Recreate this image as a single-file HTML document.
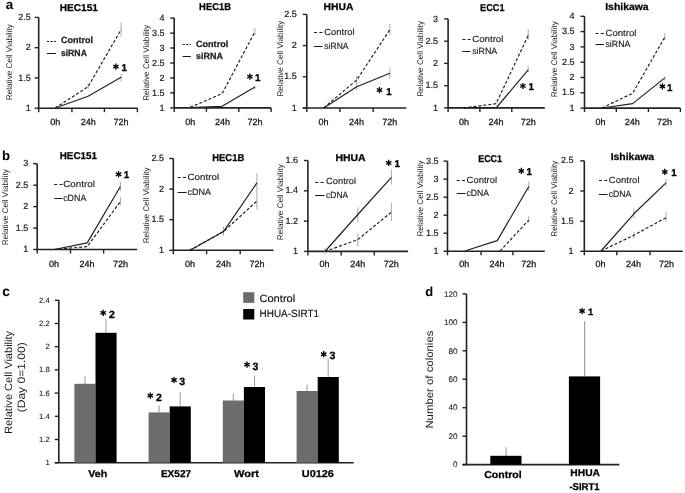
<!DOCTYPE html>
<html><head><meta charset="utf-8"><style>
html,body{margin:0;padding:0;background:#fff;}
body{width:685px;height:493px;overflow:hidden;}
svg{display:block;will-change:transform;filter:blur(0.35px);}
</style></head><body>
<svg width="685" height="493" viewBox="0 0 685 493" font-family='"Liberation Sans", sans-serif' text-rendering="geometricPrecision">
<rect width="685" height="493" fill="#fff"/>
<text x="5.7" y="9.2" font-size="13.5" font-weight="bold">a</text>
<text x="2.0" y="159.6" font-size="13.2" font-weight="bold">b</text>
<text x="2.3" y="296.3" font-size="13.8" font-weight="bold">c</text>
<text x="425.2" y="296.2" font-size="13" font-weight="bold">d</text>
<line x1="38.7" y1="17.4" x2="38.7" y2="108.2" stroke="#222" stroke-width="1.6" stroke-linecap="butt"/>
<line x1="34.7" y1="108.2" x2="38.7" y2="108.2" stroke="#222" stroke-width="1.4" stroke-linecap="butt"/>
<text x="30.7" y="110.8" font-size="9" text-anchor="end" fill="#1a1a1a" stroke="#1a1a1a" stroke-width="0.18">1</text>
<line x1="34.7" y1="77.9" x2="38.7" y2="77.9" stroke="#222" stroke-width="1.4" stroke-linecap="butt"/>
<text x="30.7" y="80.5" font-size="9" text-anchor="end" fill="#1a1a1a" stroke="#1a1a1a" stroke-width="0.18">1.5</text>
<line x1="34.7" y1="47.7" x2="38.7" y2="47.7" stroke="#222" stroke-width="1.4" stroke-linecap="butt"/>
<text x="30.7" y="50.2" font-size="9" text-anchor="end" fill="#1a1a1a" stroke="#1a1a1a" stroke-width="0.18">2</text>
<line x1="34.7" y1="17.4" x2="38.7" y2="17.4" stroke="#222" stroke-width="1.4" stroke-linecap="butt"/>
<text x="30.7" y="20.0" font-size="9" text-anchor="end" fill="#1a1a1a" stroke="#1a1a1a" stroke-width="0.18">2.5</text>
<line x1="38.7" y1="108.2" x2="137.4" y2="108.2" stroke="#222" stroke-width="1.6" stroke-linecap="butt"/>
<line x1="38.7" y1="108.2" x2="38.7" y2="112.2" stroke="#222" stroke-width="1.4" stroke-linecap="butt"/>
<line x1="71.9" y1="108.2" x2="71.9" y2="112.2" stroke="#222" stroke-width="1.4" stroke-linecap="butt"/>
<line x1="104.4" y1="108.2" x2="104.4" y2="112.2" stroke="#222" stroke-width="1.4" stroke-linecap="butt"/>
<line x1="137.4" y1="108.2" x2="137.4" y2="112.2" stroke="#222" stroke-width="1.4" stroke-linecap="butt"/>
<text x="55.3" y="124.7" font-size="9" text-anchor="middle" fill="#111" stroke="#111" stroke-width="0.25">0h</text>
<text x="88.2" y="124.7" font-size="9" text-anchor="middle" fill="#111" stroke="#111" stroke-width="0.25">24h</text>
<text x="120.9" y="124.7" font-size="9" text-anchor="middle" fill="#111" stroke="#111" stroke-width="0.25">72h</text>
<text x="59.7" y="10.6" font-size="10" font-weight="bold" stroke="#000" stroke-width="0.25" fill="#000" textLength="38.3" lengthAdjust="spacingAndGlyphs">HEC151</text>
<text transform="translate(12.2,62.2) rotate(-90)" text-anchor="middle" font-size="8.2" fill="#2a2a2a" textLength="76.0" lengthAdjust="spacingAndGlyphs">Relative Cell Viability</text>
<line x1="121.1" y1="22.3" x2="121.1" y2="36.9" stroke="#aaa" stroke-width="1" stroke-linecap="butt"/>
<line x1="121.1" y1="73.7" x2="121.1" y2="81.6" stroke="#aaa" stroke-width="1" stroke-linecap="butt"/>
<line x1="88.1" y1="84.0" x2="88.1" y2="89.0" stroke="#aaa" stroke-width="1" stroke-linecap="butt"/>
<polyline points="55.2,108.0 88.1,86.7 121.1,29.5" fill="none" stroke="#222" stroke-width="1.2" stroke-dasharray="3,2" stroke-linejoin="round"/>
<polyline points="55.2,108.0 88.1,96.2 121.1,77.3" fill="none" stroke="#222" stroke-width="1.2" stroke-linejoin="round"/>
<line x1="47.0" y1="41.5" x2="56.0" y2="41.5" stroke="#1a1a1a" stroke-width="1.0" stroke-dasharray="2.2,1.3" stroke-linecap="butt"/>
<line x1="47.0" y1="53.5" x2="56.0" y2="53.5" stroke="#1a1a1a" stroke-width="1.0" stroke-linecap="butt"/>
<text x="60.9" y="43.4" font-size="9" font-weight="bold" stroke="#222" stroke-width="0.25" fill="#222" textLength="32.0" lengthAdjust="spacingAndGlyphs">Control</text>
<text x="60.9" y="56.1" font-size="9" font-weight="bold" stroke="#222" stroke-width="0.25" fill="#222" textLength="26.0" lengthAdjust="spacingAndGlyphs">siRNA</text>
<line x1="115.9" y1="63.6" x2="115.9" y2="69.8" stroke="#000" stroke-width="1.35" stroke-linecap="butt"/>
<line x1="113.2" y1="65.2" x2="118.6" y2="68.2" stroke="#000" stroke-width="1.35" stroke-linecap="butt"/>
<line x1="118.6" y1="65.2" x2="113.2" y2="68.2" stroke="#000" stroke-width="1.35" stroke-linecap="butt"/>
<text x="121.6" y="71.1" font-size="9.8" font-weight="bold" fill="#000" stroke="#000" stroke-width="0.3">1</text>
<line x1="174.2" y1="18.1" x2="174.2" y2="107.9" stroke="#222" stroke-width="1.6" stroke-linecap="butt"/>
<line x1="170.2" y1="107.9" x2="174.2" y2="107.9" stroke="#222" stroke-width="1.4" stroke-linecap="butt"/>
<text x="164.4" y="110.5" font-size="9" text-anchor="end" fill="#1a1a1a" stroke="#1a1a1a" stroke-width="0.18">1</text>
<line x1="170.2" y1="92.9" x2="174.2" y2="92.9" stroke="#222" stroke-width="1.4" stroke-linecap="butt"/>
<text x="164.4" y="95.5" font-size="9" text-anchor="end" fill="#1a1a1a" stroke="#1a1a1a" stroke-width="0.18">1.5</text>
<line x1="170.2" y1="78.0" x2="174.2" y2="78.0" stroke="#222" stroke-width="1.4" stroke-linecap="butt"/>
<text x="164.4" y="80.5" font-size="9" text-anchor="end" fill="#1a1a1a" stroke="#1a1a1a" stroke-width="0.18">2</text>
<line x1="170.2" y1="63.0" x2="174.2" y2="63.0" stroke="#222" stroke-width="1.4" stroke-linecap="butt"/>
<text x="164.4" y="65.6" font-size="9" text-anchor="end" fill="#1a1a1a" stroke="#1a1a1a" stroke-width="0.18">2.5</text>
<line x1="170.2" y1="48.0" x2="174.2" y2="48.0" stroke="#222" stroke-width="1.4" stroke-linecap="butt"/>
<text x="164.4" y="50.6" font-size="9" text-anchor="end" fill="#1a1a1a" stroke="#1a1a1a" stroke-width="0.18">3</text>
<line x1="170.2" y1="33.1" x2="174.2" y2="33.1" stroke="#222" stroke-width="1.4" stroke-linecap="butt"/>
<text x="164.4" y="35.6" font-size="9" text-anchor="end" fill="#1a1a1a" stroke="#1a1a1a" stroke-width="0.18">3.5</text>
<line x1="170.2" y1="18.1" x2="174.2" y2="18.1" stroke="#222" stroke-width="1.4" stroke-linecap="butt"/>
<text x="164.4" y="20.7" font-size="9" text-anchor="end" fill="#1a1a1a" stroke="#1a1a1a" stroke-width="0.18">4</text>
<line x1="174.2" y1="107.9" x2="271.1" y2="107.9" stroke="#222" stroke-width="1.6" stroke-linecap="butt"/>
<line x1="174.2" y1="107.9" x2="174.2" y2="111.9" stroke="#222" stroke-width="1.4" stroke-linecap="butt"/>
<line x1="206.4" y1="107.9" x2="206.4" y2="111.9" stroke="#222" stroke-width="1.4" stroke-linecap="butt"/>
<line x1="238.8" y1="107.9" x2="238.8" y2="111.9" stroke="#222" stroke-width="1.4" stroke-linecap="butt"/>
<line x1="271.1" y1="107.9" x2="271.1" y2="111.9" stroke="#222" stroke-width="1.4" stroke-linecap="butt"/>
<text x="190.3" y="124.7" font-size="9" text-anchor="middle" fill="#111" stroke="#111" stroke-width="0.25">0h</text>
<text x="222.6" y="124.7" font-size="9" text-anchor="middle" fill="#111" stroke="#111" stroke-width="0.25">24h</text>
<text x="255.0" y="124.7" font-size="9" text-anchor="middle" fill="#111" stroke="#111" stroke-width="0.25">72h</text>
<text x="199.1" y="10.0" font-size="10" font-weight="bold" stroke="#000" stroke-width="0.25" fill="#000" textLength="31.9" lengthAdjust="spacingAndGlyphs">HEC1B</text>
<text transform="translate(149.2,62.8) rotate(-90)" text-anchor="middle" font-size="8.2" fill="#2a2a2a" textLength="76.0" lengthAdjust="spacingAndGlyphs">Relative Cell Viability</text>
<line x1="254.9" y1="27.9" x2="254.9" y2="35.2" stroke="#aaa" stroke-width="1" stroke-linecap="butt"/>
<line x1="254.9" y1="85.5" x2="254.9" y2="89.5" stroke="#aaa" stroke-width="1" stroke-linecap="butt"/>
<line x1="190.2" y1="104.3" x2="190.2" y2="108.0" stroke="#aaa" stroke-width="1" stroke-linecap="butt"/>
<polyline points="190.2,107.4 222.1,93.6 254.9,31.9" fill="none" stroke="#222" stroke-width="1.2" stroke-dasharray="3,2" stroke-linejoin="round"/>
<polyline points="190.2,107.6 222.1,106.3 254.9,87.1" fill="none" stroke="#222" stroke-width="1.2" stroke-linejoin="round"/>
<line x1="182.7" y1="44.5" x2="190.8" y2="44.5" stroke="#1a1a1a" stroke-width="1.0" stroke-dasharray="2.2,1.3" stroke-linecap="butt"/>
<line x1="182.7" y1="56.5" x2="190.8" y2="56.5" stroke="#1a1a1a" stroke-width="1.0" stroke-linecap="butt"/>
<text x="195.9" y="46.6" font-size="9" font-weight="bold" stroke="#222" stroke-width="0.25" fill="#222" textLength="32.4" lengthAdjust="spacingAndGlyphs">Control</text>
<text x="195.9" y="59.4" font-size="9" font-weight="bold" stroke="#222" stroke-width="0.25" fill="#222" textLength="27.0" lengthAdjust="spacingAndGlyphs">siRNA</text>
<line x1="249.9" y1="73.5" x2="249.9" y2="79.7" stroke="#000" stroke-width="1.35" stroke-linecap="butt"/>
<line x1="247.2" y1="75.0" x2="252.6" y2="78.1" stroke="#000" stroke-width="1.35" stroke-linecap="butt"/>
<line x1="252.6" y1="75.0" x2="247.2" y2="78.1" stroke="#000" stroke-width="1.35" stroke-linecap="butt"/>
<text x="255.0" y="81.0" font-size="9.8" font-weight="bold" fill="#000" stroke="#000" stroke-width="0.3">1</text>
<line x1="306.8" y1="14.4" x2="306.8" y2="108.0" stroke="#222" stroke-width="1.6" stroke-linecap="butt"/>
<line x1="302.8" y1="108.0" x2="306.8" y2="108.0" stroke="#222" stroke-width="1.4" stroke-linecap="butt"/>
<text x="296.8" y="110.6" font-size="9" text-anchor="end" fill="#1a1a1a" stroke="#1a1a1a" stroke-width="0.18">1</text>
<line x1="302.8" y1="76.8" x2="306.8" y2="76.8" stroke="#222" stroke-width="1.4" stroke-linecap="butt"/>
<text x="296.8" y="79.4" font-size="9" text-anchor="end" fill="#1a1a1a" stroke="#1a1a1a" stroke-width="0.18">1.5</text>
<line x1="302.8" y1="45.6" x2="306.8" y2="45.6" stroke="#222" stroke-width="1.4" stroke-linecap="butt"/>
<text x="296.8" y="48.2" font-size="9" text-anchor="end" fill="#1a1a1a" stroke="#1a1a1a" stroke-width="0.18">2</text>
<line x1="302.8" y1="14.4" x2="306.8" y2="14.4" stroke="#222" stroke-width="1.4" stroke-linecap="butt"/>
<text x="296.8" y="17.0" font-size="9" text-anchor="end" fill="#1a1a1a" stroke="#1a1a1a" stroke-width="0.18">2.5</text>
<line x1="302.8" y1="108.0" x2="406.3" y2="108.0" stroke="#222" stroke-width="1.6" stroke-linecap="butt"/>
<line x1="306.8" y1="108.0" x2="306.8" y2="112.0" stroke="#222" stroke-width="1.4" stroke-linecap="butt"/>
<line x1="339.9" y1="108.0" x2="339.9" y2="112.0" stroke="#222" stroke-width="1.4" stroke-linecap="butt"/>
<line x1="373.2" y1="108.0" x2="373.2" y2="112.0" stroke="#222" stroke-width="1.4" stroke-linecap="butt"/>
<text x="323.4" y="124.7" font-size="9" text-anchor="middle" fill="#111" stroke="#111" stroke-width="0.25">0h</text>
<text x="356.5" y="124.7" font-size="9" text-anchor="middle" fill="#111" stroke="#111" stroke-width="0.25">24h</text>
<text x="389.8" y="124.7" font-size="9" text-anchor="middle" fill="#111" stroke="#111" stroke-width="0.25">72h</text>
<text x="323.6" y="10.3" font-size="10" font-weight="bold" stroke="#000" stroke-width="0.25" fill="#000" textLength="29.8" lengthAdjust="spacingAndGlyphs">HHUA</text>
<text transform="translate(282.8,58.6) rotate(-90)" text-anchor="middle" font-size="8.2" fill="#2a2a2a" textLength="76.0" lengthAdjust="spacingAndGlyphs">Relative Cell Viability</text>
<line x1="356.7" y1="82.0" x2="356.7" y2="90.1" stroke="#aaa" stroke-width="1" stroke-linecap="butt"/>
<line x1="389.9" y1="23.8" x2="389.9" y2="35.4" stroke="#aaa" stroke-width="1" stroke-linecap="butt"/>
<line x1="389.9" y1="68.4" x2="389.9" y2="78.5" stroke="#aaa" stroke-width="1" stroke-linecap="butt"/>
<line x1="356.7" y1="76.0" x2="356.7" y2="84.0" stroke="#aaa" stroke-width="1" stroke-linecap="butt"/>
<polyline points="323.7,108.0 356.7,80.0 389.9,29.6" fill="none" stroke="#222" stroke-width="1.2" stroke-dasharray="3,2" stroke-linejoin="round"/>
<polyline points="323.7,108.0 356.7,86.7 389.9,73.2" fill="none" stroke="#222" stroke-width="1.2" stroke-linejoin="round"/>
<line x1="314.1" y1="32.5" x2="322.5" y2="32.5" stroke="#1a1a1a" stroke-width="1.0" stroke-dasharray="3,2.3" stroke-linecap="butt"/>
<line x1="314.1" y1="46.5" x2="322.5" y2="46.5" stroke="#1a1a1a" stroke-width="1.0" stroke-linecap="butt"/>
<text x="324.3" y="34.5" font-size="9" stroke="#222" stroke-width="0.15" fill="#222" textLength="30.4" lengthAdjust="spacingAndGlyphs">Control</text>
<text x="324.3" y="49.2" font-size="9" stroke="#222" stroke-width="0.15" fill="#222" textLength="24.3" lengthAdjust="spacingAndGlyphs">siRNA</text>
<line x1="379.5" y1="87.0" x2="379.5" y2="93.2" stroke="#000" stroke-width="1.35" stroke-linecap="butt"/>
<line x1="376.8" y1="88.5" x2="382.2" y2="91.6" stroke="#000" stroke-width="1.35" stroke-linecap="butt"/>
<line x1="382.2" y1="88.5" x2="376.8" y2="91.6" stroke="#000" stroke-width="1.35" stroke-linecap="butt"/>
<text x="386.2" y="94.5" font-size="9.8" font-weight="bold" fill="#000" stroke="#000" stroke-width="0.3">1</text>
<line x1="448.1" y1="18.9" x2="448.1" y2="107.9" stroke="#222" stroke-width="1.6" stroke-linecap="butt"/>
<line x1="444.1" y1="107.9" x2="448.1" y2="107.9" stroke="#222" stroke-width="1.4" stroke-linecap="butt"/>
<text x="437.9" y="110.5" font-size="9" text-anchor="end" fill="#1a1a1a" stroke="#1a1a1a" stroke-width="0.18">1</text>
<line x1="444.1" y1="85.7" x2="448.1" y2="85.7" stroke="#222" stroke-width="1.4" stroke-linecap="butt"/>
<text x="437.9" y="88.2" font-size="9" text-anchor="end" fill="#1a1a1a" stroke="#1a1a1a" stroke-width="0.18">1.5</text>
<line x1="444.1" y1="63.4" x2="448.1" y2="63.4" stroke="#222" stroke-width="1.4" stroke-linecap="butt"/>
<text x="437.9" y="66.0" font-size="9" text-anchor="end" fill="#1a1a1a" stroke="#1a1a1a" stroke-width="0.18">2</text>
<line x1="444.1" y1="41.2" x2="448.1" y2="41.2" stroke="#222" stroke-width="1.4" stroke-linecap="butt"/>
<text x="437.9" y="43.7" font-size="9" text-anchor="end" fill="#1a1a1a" stroke="#1a1a1a" stroke-width="0.18">2.5</text>
<line x1="444.1" y1="18.9" x2="448.1" y2="18.9" stroke="#222" stroke-width="1.4" stroke-linecap="butt"/>
<text x="437.9" y="21.5" font-size="9" text-anchor="end" fill="#1a1a1a" stroke="#1a1a1a" stroke-width="0.18">3</text>
<line x1="448.1" y1="107.9" x2="544.8" y2="107.9" stroke="#222" stroke-width="1.6" stroke-linecap="butt"/>
<line x1="448.1" y1="107.9" x2="448.1" y2="111.9" stroke="#222" stroke-width="1.4" stroke-linecap="butt"/>
<line x1="479.9" y1="107.9" x2="479.9" y2="111.9" stroke="#222" stroke-width="1.4" stroke-linecap="butt"/>
<line x1="511.8" y1="107.9" x2="511.8" y2="111.9" stroke="#222" stroke-width="1.4" stroke-linecap="butt"/>
<text x="464.0" y="124.7" font-size="9" text-anchor="middle" fill="#111" stroke="#111" stroke-width="0.25">0h</text>
<text x="495.9" y="124.7" font-size="9" text-anchor="middle" fill="#111" stroke="#111" stroke-width="0.25">24h</text>
<text x="528.3" y="124.7" font-size="9" text-anchor="middle" fill="#111" stroke="#111" stroke-width="0.25">72h</text>
<text x="480.1" y="10.5" font-size="10" font-weight="bold" stroke="#000" stroke-width="0.25" fill="#000" textLength="24.4" lengthAdjust="spacingAndGlyphs">ECC1</text>
<text transform="translate(423.0,58.8) rotate(-90)" text-anchor="middle" font-size="8.2" fill="#2a2a2a" textLength="76.0" lengthAdjust="spacingAndGlyphs">Relative Cell Viability</text>
<line x1="528.2" y1="29.3" x2="528.2" y2="40.0" stroke="#aaa" stroke-width="1" stroke-linecap="butt"/>
<line x1="528.2" y1="66.0" x2="528.2" y2="72.0" stroke="#aaa" stroke-width="1" stroke-linecap="butt"/>
<polyline points="463.5,108.0 496.1,103.7 528.2,35.4" fill="none" stroke="#222" stroke-width="1.2" stroke-dasharray="3,2" stroke-linejoin="round"/>
<polyline points="463.5,108.0 496.1,108.0 528.2,69.8" fill="none" stroke="#222" stroke-width="1.2" stroke-linejoin="round"/>
<line x1="462.4" y1="39.5" x2="470.5" y2="39.5" stroke="#1a1a1a" stroke-width="1.0" stroke-dasharray="3,2.3" stroke-linecap="butt"/>
<line x1="462.4" y1="51.5" x2="470.5" y2="51.5" stroke="#1a1a1a" stroke-width="1.0" stroke-linecap="butt"/>
<text x="472.2" y="42.0" font-size="9" stroke="#222" stroke-width="0.15" fill="#222" textLength="31.2" lengthAdjust="spacingAndGlyphs">Control</text>
<text x="472.2" y="54.2" font-size="9" stroke="#222" stroke-width="0.15" fill="#222" textLength="25.1" lengthAdjust="spacingAndGlyphs">siRNA</text>
<line x1="522.9" y1="82.9" x2="522.9" y2="89.1" stroke="#000" stroke-width="1.35" stroke-linecap="butt"/>
<line x1="520.2" y1="84.5" x2="525.6" y2="87.5" stroke="#000" stroke-width="1.35" stroke-linecap="butt"/>
<line x1="525.6" y1="84.5" x2="520.2" y2="87.5" stroke="#000" stroke-width="1.35" stroke-linecap="butt"/>
<text x="528.6" y="90.4" font-size="9.8" font-weight="bold" fill="#000" stroke="#000" stroke-width="0.3">1</text>
<line x1="584.5" y1="16.3" x2="584.5" y2="108.1" stroke="#222" stroke-width="1.6" stroke-linecap="butt"/>
<line x1="580.5" y1="108.1" x2="584.5" y2="108.1" stroke="#222" stroke-width="1.4" stroke-linecap="butt"/>
<text x="574.4" y="110.7" font-size="9" text-anchor="end" fill="#1a1a1a" stroke="#1a1a1a" stroke-width="0.18">1</text>
<line x1="580.5" y1="92.8" x2="584.5" y2="92.8" stroke="#222" stroke-width="1.4" stroke-linecap="butt"/>
<text x="574.4" y="95.4" font-size="9" text-anchor="end" fill="#1a1a1a" stroke="#1a1a1a" stroke-width="0.18">1.5</text>
<line x1="580.5" y1="77.5" x2="584.5" y2="77.5" stroke="#222" stroke-width="1.4" stroke-linecap="butt"/>
<text x="574.4" y="80.1" font-size="9" text-anchor="end" fill="#1a1a1a" stroke="#1a1a1a" stroke-width="0.18">2</text>
<line x1="580.5" y1="62.2" x2="584.5" y2="62.2" stroke="#222" stroke-width="1.4" stroke-linecap="butt"/>
<text x="574.4" y="64.8" font-size="9" text-anchor="end" fill="#1a1a1a" stroke="#1a1a1a" stroke-width="0.18">2.5</text>
<line x1="580.5" y1="46.9" x2="584.5" y2="46.9" stroke="#222" stroke-width="1.4" stroke-linecap="butt"/>
<text x="574.4" y="49.5" font-size="9" text-anchor="end" fill="#1a1a1a" stroke="#1a1a1a" stroke-width="0.18">3</text>
<line x1="580.5" y1="31.6" x2="584.5" y2="31.6" stroke="#222" stroke-width="1.4" stroke-linecap="butt"/>
<text x="574.4" y="34.2" font-size="9" text-anchor="end" fill="#1a1a1a" stroke="#1a1a1a" stroke-width="0.18">3.5</text>
<line x1="580.5" y1="16.3" x2="584.5" y2="16.3" stroke="#222" stroke-width="1.4" stroke-linecap="butt"/>
<text x="574.4" y="18.9" font-size="9" text-anchor="end" fill="#1a1a1a" stroke="#1a1a1a" stroke-width="0.18">4</text>
<line x1="584.5" y1="108.1" x2="680.4" y2="108.1" stroke="#222" stroke-width="1.6" stroke-linecap="butt"/>
<line x1="584.5" y1="108.1" x2="584.5" y2="112.1" stroke="#222" stroke-width="1.4" stroke-linecap="butt"/>
<line x1="616.3" y1="108.1" x2="616.3" y2="112.1" stroke="#222" stroke-width="1.4" stroke-linecap="butt"/>
<line x1="648.4" y1="108.1" x2="648.4" y2="112.1" stroke="#222" stroke-width="1.4" stroke-linecap="butt"/>
<line x1="680.4" y1="108.1" x2="680.4" y2="112.1" stroke="#222" stroke-width="1.4" stroke-linecap="butt"/>
<text x="600.4" y="124.7" font-size="9" text-anchor="middle" fill="#111" stroke="#111" stroke-width="0.25">0h</text>
<text x="632.3" y="124.7" font-size="9" text-anchor="middle" fill="#111" stroke="#111" stroke-width="0.25">24h</text>
<text x="664.4" y="124.7" font-size="9" text-anchor="middle" fill="#111" stroke="#111" stroke-width="0.25">72h</text>
<text x="605.2" y="10.3" font-size="10" font-weight="bold" stroke="#000" stroke-width="0.25" fill="#000" textLength="43.5" lengthAdjust="spacingAndGlyphs">Ishikawa</text>
<text transform="translate(556.6,59.2) rotate(-90)" text-anchor="middle" font-size="8.2" fill="#2a2a2a" textLength="76.0" lengthAdjust="spacingAndGlyphs">Relative Cell Viability</text>
<line x1="664.8" y1="33.3" x2="664.8" y2="40.2" stroke="#aaa" stroke-width="1" stroke-linecap="butt"/>
<line x1="664.8" y1="76.0" x2="664.8" y2="80.0" stroke="#aaa" stroke-width="1" stroke-linecap="butt"/>
<polyline points="602.0,108.0 632.7,93.2 664.8,37.2" fill="none" stroke="#222" stroke-width="1.2" stroke-dasharray="3,2" stroke-linejoin="round"/>
<polyline points="602.0,108.0 632.7,103.6 664.8,77.9" fill="none" stroke="#222" stroke-width="1.2" stroke-linejoin="round"/>
<line x1="595.5" y1="33.5" x2="604.0" y2="33.5" stroke="#1a1a1a" stroke-width="1.0" stroke-dasharray="3,2.3" stroke-linecap="butt"/>
<line x1="595.5" y1="44.5" x2="604.0" y2="44.5" stroke="#1a1a1a" stroke-width="1.0" stroke-linecap="butt"/>
<text x="605.5" y="35.9" font-size="9" stroke="#222" stroke-width="0.15" fill="#222" textLength="30.9" lengthAdjust="spacingAndGlyphs">Control</text>
<text x="605.5" y="47.4" font-size="9" stroke="#222" stroke-width="0.15" fill="#222" textLength="24.8" lengthAdjust="spacingAndGlyphs">siRNA</text>
<line x1="662.4" y1="83.3" x2="662.4" y2="89.5" stroke="#000" stroke-width="1.35" stroke-linecap="butt"/>
<line x1="659.7" y1="84.8" x2="665.1" y2="87.9" stroke="#000" stroke-width="1.35" stroke-linecap="butt"/>
<line x1="665.1" y1="84.8" x2="659.7" y2="87.9" stroke="#000" stroke-width="1.35" stroke-linecap="butt"/>
<text x="667.1" y="90.8" font-size="9.8" font-weight="bold" fill="#000" stroke="#000" stroke-width="0.3">1</text>
<line x1="37.2" y1="163.7" x2="37.2" y2="249.5" stroke="#222" stroke-width="1.6" stroke-linecap="butt"/>
<line x1="33.2" y1="249.5" x2="37.2" y2="249.5" stroke="#222" stroke-width="1.4" stroke-linecap="butt"/>
<text x="28.2" y="252.1" font-size="9" text-anchor="end" fill="#1a1a1a" stroke="#1a1a1a" stroke-width="0.18">1</text>
<line x1="33.2" y1="228.1" x2="37.2" y2="228.1" stroke="#222" stroke-width="1.4" stroke-linecap="butt"/>
<text x="28.2" y="230.6" font-size="9" text-anchor="end" fill="#1a1a1a" stroke="#1a1a1a" stroke-width="0.18">1.5</text>
<line x1="33.2" y1="206.6" x2="37.2" y2="206.6" stroke="#222" stroke-width="1.4" stroke-linecap="butt"/>
<text x="28.2" y="209.2" font-size="9" text-anchor="end" fill="#1a1a1a" stroke="#1a1a1a" stroke-width="0.18">2</text>
<line x1="33.2" y1="185.2" x2="37.2" y2="185.2" stroke="#222" stroke-width="1.4" stroke-linecap="butt"/>
<text x="28.2" y="187.7" font-size="9" text-anchor="end" fill="#1a1a1a" stroke="#1a1a1a" stroke-width="0.18">2.5</text>
<line x1="33.2" y1="163.7" x2="37.2" y2="163.7" stroke="#222" stroke-width="1.4" stroke-linecap="butt"/>
<text x="28.2" y="166.3" font-size="9" text-anchor="end" fill="#1a1a1a" stroke="#1a1a1a" stroke-width="0.18">3</text>
<line x1="37.2" y1="249.5" x2="137.2" y2="249.5" stroke="#222" stroke-width="1.6" stroke-linecap="butt"/>
<line x1="37.2" y1="249.5" x2="37.2" y2="253.5" stroke="#222" stroke-width="1.4" stroke-linecap="butt"/>
<line x1="70.5" y1="249.5" x2="70.5" y2="253.5" stroke="#222" stroke-width="1.4" stroke-linecap="butt"/>
<line x1="103.6" y1="249.5" x2="103.6" y2="253.5" stroke="#222" stroke-width="1.4" stroke-linecap="butt"/>
<text x="53.9" y="266.5" font-size="9" text-anchor="middle" fill="#111" stroke="#111" stroke-width="0.25">0h</text>
<text x="87.0" y="266.5" font-size="9" text-anchor="middle" fill="#111" stroke="#111" stroke-width="0.25">24h</text>
<text x="120.4" y="266.5" font-size="9" text-anchor="middle" fill="#111" stroke="#111" stroke-width="0.25">72h</text>
<text x="59.7" y="158.5" font-size="10" font-weight="bold" stroke="#000" stroke-width="0.25" fill="#000" textLength="37.3" lengthAdjust="spacingAndGlyphs">HEC151</text>
<text transform="translate(8.3,207.2) rotate(-90)" text-anchor="middle" font-size="8.2" fill="#2a2a2a" textLength="76.0" lengthAdjust="spacingAndGlyphs">Relative Cell Viability</text>
<line x1="120.4" y1="181.6" x2="120.4" y2="191.0" stroke="#aaa" stroke-width="1" stroke-linecap="butt"/>
<line x1="120.4" y1="197.0" x2="120.4" y2="205.0" stroke="#aaa" stroke-width="1" stroke-linecap="butt"/>
<polyline points="54.2,249.5 87.2,246.6 120.4,201.6" fill="none" stroke="#222" stroke-width="1.2" stroke-dasharray="3,2" stroke-linejoin="round"/>
<polyline points="54.2,249.5 87.2,242.9 120.4,186.5" fill="none" stroke="#222" stroke-width="1.2" stroke-linejoin="round"/>
<line x1="54.2" y1="184.5" x2="62.5" y2="184.5" stroke="#1a1a1a" stroke-width="1.0" stroke-dasharray="3,2.3" stroke-linecap="butt"/>
<line x1="54.2" y1="198.5" x2="62.5" y2="198.5" stroke="#1a1a1a" stroke-width="1.0" stroke-linecap="butt"/>
<text x="63.2" y="187.2" font-size="9" stroke="#222" stroke-width="0.15" fill="#222" textLength="31.7" lengthAdjust="spacingAndGlyphs">Control</text>
<text x="63.2" y="200.7" font-size="9" stroke="#222" stroke-width="0.15" fill="#222" textLength="23.1" lengthAdjust="spacingAndGlyphs">cDNA</text>
<line x1="118.6" y1="171.1" x2="118.6" y2="177.3" stroke="#000" stroke-width="1.35" stroke-linecap="butt"/>
<line x1="115.9" y1="172.6" x2="121.3" y2="175.8" stroke="#000" stroke-width="1.35" stroke-linecap="butt"/>
<line x1="121.3" y1="172.6" x2="115.9" y2="175.8" stroke="#000" stroke-width="1.35" stroke-linecap="butt"/>
<text x="123.8" y="178.4" font-size="9.8" font-weight="bold" fill="#000" stroke="#000" stroke-width="0.3">1</text>
<line x1="173.3" y1="158.5" x2="173.3" y2="250.3" stroke="#222" stroke-width="1.6" stroke-linecap="butt"/>
<line x1="169.3" y1="250.3" x2="173.3" y2="250.3" stroke="#222" stroke-width="1.4" stroke-linecap="butt"/>
<text x="164.0" y="252.9" font-size="9" text-anchor="end" fill="#1a1a1a" stroke="#1a1a1a" stroke-width="0.18">1</text>
<line x1="169.3" y1="219.7" x2="173.3" y2="219.7" stroke="#222" stroke-width="1.4" stroke-linecap="butt"/>
<text x="164.0" y="222.3" font-size="9" text-anchor="end" fill="#1a1a1a" stroke="#1a1a1a" stroke-width="0.18">1.5</text>
<line x1="169.3" y1="189.1" x2="173.3" y2="189.1" stroke="#222" stroke-width="1.4" stroke-linecap="butt"/>
<text x="164.0" y="191.7" font-size="9" text-anchor="end" fill="#1a1a1a" stroke="#1a1a1a" stroke-width="0.18">2</text>
<line x1="169.3" y1="158.5" x2="173.3" y2="158.5" stroke="#222" stroke-width="1.4" stroke-linecap="butt"/>
<text x="164.0" y="161.1" font-size="9" text-anchor="end" fill="#1a1a1a" stroke="#1a1a1a" stroke-width="0.18">2.5</text>
<line x1="173.3" y1="250.3" x2="273.6" y2="250.3" stroke="#222" stroke-width="1.6" stroke-linecap="butt"/>
<line x1="173.3" y1="250.3" x2="173.3" y2="254.3" stroke="#222" stroke-width="1.4" stroke-linecap="butt"/>
<line x1="206.6" y1="250.3" x2="206.6" y2="254.3" stroke="#222" stroke-width="1.4" stroke-linecap="butt"/>
<line x1="240.2" y1="250.3" x2="240.2" y2="254.3" stroke="#222" stroke-width="1.4" stroke-linecap="butt"/>
<text x="189.9" y="267.1" font-size="9" text-anchor="middle" fill="#111" stroke="#111" stroke-width="0.25">0h</text>
<text x="223.4" y="267.1" font-size="9" text-anchor="middle" fill="#111" stroke="#111" stroke-width="0.25">24h</text>
<text x="256.9" y="267.1" font-size="9" text-anchor="middle" fill="#111" stroke="#111" stroke-width="0.25">72h</text>
<text x="212.3" y="160.8" font-size="10" font-weight="bold" stroke="#000" stroke-width="0.25" fill="#000" textLength="31.9" lengthAdjust="spacingAndGlyphs">HEC1B</text>
<text transform="translate(149.2,205.3) rotate(-90)" text-anchor="middle" font-size="8.2" fill="#2a2a2a" textLength="76.0" lengthAdjust="spacingAndGlyphs">Relative Cell Viability</text>
<line x1="256.9" y1="173.1" x2="256.9" y2="193.8" stroke="#aaa" stroke-width="1" stroke-linecap="butt"/>
<line x1="256.9" y1="193.8" x2="256.9" y2="209.7" stroke="#aaa" stroke-width="1" stroke-linecap="butt"/>
<line x1="223.5" y1="226.7" x2="223.5" y2="235.7" stroke="#aaa" stroke-width="1" stroke-linecap="butt"/>
<polyline points="189.9,250.3 223.5,231.6 256.9,201.1" fill="none" stroke="#222" stroke-width="1.2" stroke-dasharray="3,2" stroke-linejoin="round"/>
<polyline points="189.9,250.3 223.5,231.6 256.9,182.9" fill="none" stroke="#222" stroke-width="1.2" stroke-linejoin="round"/>
<line x1="177.7" y1="177.5" x2="186.5" y2="177.5" stroke="#1a1a1a" stroke-width="1.0" stroke-dasharray="3,2.3" stroke-linecap="butt"/>
<line x1="177.7" y1="192.5" x2="186.5" y2="192.5" stroke="#1a1a1a" stroke-width="1.0" stroke-linecap="butt"/>
<text x="187.5" y="180.0" font-size="9" stroke="#222" stroke-width="0.15" fill="#222" textLength="31.6" lengthAdjust="spacingAndGlyphs">Control</text>
<text x="187.5" y="194.6" font-size="9" stroke="#222" stroke-width="0.15" fill="#222" textLength="23.6" lengthAdjust="spacingAndGlyphs">cDNA</text>
<line x1="307.9" y1="160.5" x2="307.9" y2="251.4" stroke="#222" stroke-width="1.6" stroke-linecap="butt"/>
<line x1="303.9" y1="251.4" x2="307.9" y2="251.4" stroke="#222" stroke-width="1.4" stroke-linecap="butt"/>
<text x="297.9" y="254.0" font-size="9" text-anchor="end" fill="#1a1a1a" stroke="#1a1a1a" stroke-width="0.18">1</text>
<line x1="303.9" y1="221.1" x2="307.9" y2="221.1" stroke="#222" stroke-width="1.4" stroke-linecap="butt"/>
<text x="297.9" y="223.7" font-size="9" text-anchor="end" fill="#1a1a1a" stroke="#1a1a1a" stroke-width="0.18">1.2</text>
<line x1="303.9" y1="190.8" x2="307.9" y2="190.8" stroke="#222" stroke-width="1.4" stroke-linecap="butt"/>
<text x="297.9" y="193.4" font-size="9" text-anchor="end" fill="#1a1a1a" stroke="#1a1a1a" stroke-width="0.18">1.4</text>
<line x1="303.9" y1="160.5" x2="307.9" y2="160.5" stroke="#222" stroke-width="1.4" stroke-linecap="butt"/>
<text x="297.9" y="163.1" font-size="9" text-anchor="end" fill="#1a1a1a" stroke="#1a1a1a" stroke-width="0.18">1.6</text>
<line x1="307.9" y1="251.4" x2="408.1" y2="251.4" stroke="#222" stroke-width="1.6" stroke-linecap="butt"/>
<line x1="307.9" y1="251.4" x2="307.9" y2="255.4" stroke="#222" stroke-width="1.4" stroke-linecap="butt"/>
<line x1="341.2" y1="251.4" x2="341.2" y2="255.4" stroke="#222" stroke-width="1.4" stroke-linecap="butt"/>
<line x1="374.3" y1="251.4" x2="374.3" y2="255.4" stroke="#222" stroke-width="1.4" stroke-linecap="butt"/>
<text x="324.5" y="267.1" font-size="9" text-anchor="middle" fill="#111" stroke="#111" stroke-width="0.25">0h</text>
<text x="357.8" y="267.1" font-size="9" text-anchor="middle" fill="#111" stroke="#111" stroke-width="0.25">24h</text>
<text x="391.2" y="267.1" font-size="9" text-anchor="middle" fill="#111" stroke="#111" stroke-width="0.25">72h</text>
<text x="335.4" y="160.8" font-size="10" font-weight="bold" stroke="#000" stroke-width="0.25" fill="#000" textLength="30.2" lengthAdjust="spacingAndGlyphs">HHUA</text>
<text transform="translate(282.6,202.2) rotate(-90)" text-anchor="middle" font-size="8.2" fill="#2a2a2a" textLength="76.0" lengthAdjust="spacingAndGlyphs">Relative Cell Viability</text>
<line x1="357.8" y1="207.2" x2="357.8" y2="221.8" stroke="#aaa" stroke-width="1" stroke-linecap="butt"/>
<line x1="357.8" y1="233.3" x2="357.8" y2="246.2" stroke="#aaa" stroke-width="1" stroke-linecap="butt"/>
<line x1="391.4" y1="169.5" x2="391.4" y2="184.6" stroke="#aaa" stroke-width="1" stroke-linecap="butt"/>
<line x1="391.4" y1="203.1" x2="391.4" y2="221.1" stroke="#aaa" stroke-width="1" stroke-linecap="butt"/>
<line x1="324.9" y1="248.0" x2="324.9" y2="254.0" stroke="#aaa" stroke-width="1" stroke-linecap="butt"/>
<polyline points="324.9,251.5 357.8,239.6 391.4,212.1" fill="none" stroke="#222" stroke-width="1.2" stroke-dasharray="3,2" stroke-linejoin="round"/>
<polyline points="324.9,251.5 357.8,214.5 391.4,177.3" fill="none" stroke="#222" stroke-width="1.2" stroke-linejoin="round"/>
<line x1="315.2" y1="182.5" x2="324.5" y2="182.5" stroke="#1a1a1a" stroke-width="1.0" stroke-dasharray="3,2.3" stroke-linecap="butt"/>
<line x1="315.2" y1="195.5" x2="324.5" y2="195.5" stroke="#1a1a1a" stroke-width="1.0" stroke-linecap="butt"/>
<text x="326.1" y="184.3" font-size="9" stroke="#222" stroke-width="0.15" fill="#222" textLength="30.0" lengthAdjust="spacingAndGlyphs">Control</text>
<text x="326.1" y="197.8" font-size="9" stroke="#222" stroke-width="0.15" fill="#222" textLength="22.0" lengthAdjust="spacingAndGlyphs">cDNA</text>
<line x1="388.7" y1="159.8" x2="388.7" y2="166.0" stroke="#000" stroke-width="1.35" stroke-linecap="butt"/>
<line x1="386.0" y1="161.3" x2="391.4" y2="164.5" stroke="#000" stroke-width="1.35" stroke-linecap="butt"/>
<line x1="391.4" y1="161.3" x2="386.0" y2="164.5" stroke="#000" stroke-width="1.35" stroke-linecap="butt"/>
<text x="394.5" y="167.1" font-size="9.8" font-weight="bold" fill="#000" stroke="#000" stroke-width="0.3">1</text>
<line x1="447.5" y1="161.0" x2="447.5" y2="251.3" stroke="#222" stroke-width="1.6" stroke-linecap="butt"/>
<line x1="443.5" y1="251.3" x2="447.5" y2="251.3" stroke="#222" stroke-width="1.4" stroke-linecap="butt"/>
<text x="438.6" y="253.9" font-size="9" text-anchor="end" fill="#1a1a1a" stroke="#1a1a1a" stroke-width="0.18">1</text>
<line x1="443.5" y1="233.2" x2="447.5" y2="233.2" stroke="#222" stroke-width="1.4" stroke-linecap="butt"/>
<text x="438.6" y="235.8" font-size="9" text-anchor="end" fill="#1a1a1a" stroke="#1a1a1a" stroke-width="0.18">1.5</text>
<line x1="443.5" y1="215.2" x2="447.5" y2="215.2" stroke="#222" stroke-width="1.4" stroke-linecap="butt"/>
<text x="438.6" y="217.8" font-size="9" text-anchor="end" fill="#1a1a1a" stroke="#1a1a1a" stroke-width="0.18">2</text>
<line x1="443.5" y1="197.2" x2="447.5" y2="197.2" stroke="#222" stroke-width="1.4" stroke-linecap="butt"/>
<text x="438.6" y="199.7" font-size="9" text-anchor="end" fill="#1a1a1a" stroke="#1a1a1a" stroke-width="0.18">2.5</text>
<line x1="443.5" y1="179.1" x2="447.5" y2="179.1" stroke="#222" stroke-width="1.4" stroke-linecap="butt"/>
<text x="438.6" y="181.7" font-size="9" text-anchor="end" fill="#1a1a1a" stroke="#1a1a1a" stroke-width="0.18">3</text>
<line x1="443.5" y1="161.1" x2="447.5" y2="161.1" stroke="#222" stroke-width="1.4" stroke-linecap="butt"/>
<text x="438.6" y="163.6" font-size="9" text-anchor="end" fill="#1a1a1a" stroke="#1a1a1a" stroke-width="0.18">3.5</text>
<line x1="447.5" y1="251.3" x2="544.8" y2="251.3" stroke="#222" stroke-width="1.6" stroke-linecap="butt"/>
<line x1="447.5" y1="251.3" x2="447.5" y2="255.3" stroke="#222" stroke-width="1.4" stroke-linecap="butt"/>
<line x1="481.1" y1="251.3" x2="481.1" y2="255.3" stroke="#222" stroke-width="1.4" stroke-linecap="butt"/>
<line x1="512.9" y1="251.3" x2="512.9" y2="255.3" stroke="#222" stroke-width="1.4" stroke-linecap="butt"/>
<text x="464.3" y="267.1" font-size="9" text-anchor="middle" fill="#111" stroke="#111" stroke-width="0.25">0h</text>
<text x="497.0" y="267.1" font-size="9" text-anchor="middle" fill="#111" stroke="#111" stroke-width="0.25">24h</text>
<text x="528.8" y="267.1" font-size="9" text-anchor="middle" fill="#111" stroke="#111" stroke-width="0.25">72h</text>
<text x="478.2" y="162.0" font-size="10" font-weight="bold" stroke="#000" stroke-width="0.25" fill="#000" textLength="23.8" lengthAdjust="spacingAndGlyphs">ECC1</text>
<text transform="translate(423.4,198.4) rotate(-90)" text-anchor="middle" font-size="8.2" fill="#2a2a2a" textLength="76.0" lengthAdjust="spacingAndGlyphs">Relative Cell Viability</text>
<line x1="528.8" y1="181.7" x2="528.8" y2="191.0" stroke="#aaa" stroke-width="1" stroke-linecap="butt"/>
<line x1="528.8" y1="216.2" x2="528.8" y2="223.0" stroke="#aaa" stroke-width="1" stroke-linecap="butt"/>
<polyline points="500.0,251.0 528.8,220.1" fill="none" stroke="#222" stroke-width="1.2" stroke-dasharray="3,2" stroke-linejoin="round"/>
<polyline points="464.8,251.0 497.2,240.6 528.8,186.5" fill="none" stroke="#222" stroke-width="1.2" stroke-linejoin="round"/>
<line x1="456.7" y1="180.5" x2="465.5" y2="180.5" stroke="#1a1a1a" stroke-width="1.0" stroke-dasharray="3,2.3" stroke-linecap="butt"/>
<line x1="456.7" y1="193.5" x2="465.5" y2="193.5" stroke="#1a1a1a" stroke-width="1.0" stroke-linecap="butt"/>
<text x="466.5" y="182.8" font-size="9" stroke="#222" stroke-width="0.15" fill="#222" textLength="30.7" lengthAdjust="spacingAndGlyphs">Control</text>
<text x="466.5" y="195.8" font-size="9" stroke="#222" stroke-width="0.15" fill="#222" textLength="22.6" lengthAdjust="spacingAndGlyphs">cDNA</text>
<line x1="521.3" y1="167.8" x2="521.3" y2="174.0" stroke="#000" stroke-width="1.35" stroke-linecap="butt"/>
<line x1="518.6" y1="169.3" x2="524.0" y2="172.5" stroke="#000" stroke-width="1.35" stroke-linecap="butt"/>
<line x1="524.0" y1="169.3" x2="518.6" y2="172.5" stroke="#000" stroke-width="1.35" stroke-linecap="butt"/>
<text x="526.5" y="175.1" font-size="9.8" font-weight="bold" fill="#000" stroke="#000" stroke-width="0.3">1</text>
<line x1="584.3" y1="160.8" x2="584.3" y2="251.3" stroke="#222" stroke-width="1.6" stroke-linecap="butt"/>
<line x1="580.3" y1="251.3" x2="584.3" y2="251.3" stroke="#222" stroke-width="1.4" stroke-linecap="butt"/>
<text x="573.6" y="253.9" font-size="9" text-anchor="end" fill="#1a1a1a" stroke="#1a1a1a" stroke-width="0.18">1</text>
<line x1="580.3" y1="221.2" x2="584.3" y2="221.2" stroke="#222" stroke-width="1.4" stroke-linecap="butt"/>
<text x="573.6" y="223.7" font-size="9" text-anchor="end" fill="#1a1a1a" stroke="#1a1a1a" stroke-width="0.18">1.5</text>
<line x1="580.3" y1="191.0" x2="584.3" y2="191.0" stroke="#222" stroke-width="1.4" stroke-linecap="butt"/>
<text x="573.6" y="193.6" font-size="9" text-anchor="end" fill="#1a1a1a" stroke="#1a1a1a" stroke-width="0.18">2</text>
<line x1="580.3" y1="160.9" x2="584.3" y2="160.9" stroke="#222" stroke-width="1.4" stroke-linecap="butt"/>
<text x="573.6" y="163.4" font-size="9" text-anchor="end" fill="#1a1a1a" stroke="#1a1a1a" stroke-width="0.18">2.5</text>
<line x1="584.3" y1="251.3" x2="682.8" y2="251.3" stroke="#222" stroke-width="1.6" stroke-linecap="butt"/>
<line x1="584.3" y1="251.3" x2="584.3" y2="255.3" stroke="#222" stroke-width="1.4" stroke-linecap="butt"/>
<line x1="616.8" y1="251.3" x2="616.8" y2="255.3" stroke="#222" stroke-width="1.4" stroke-linecap="butt"/>
<line x1="650.0" y1="251.3" x2="650.0" y2="255.3" stroke="#222" stroke-width="1.4" stroke-linecap="butt"/>
<text x="600.5" y="267.1" font-size="9" text-anchor="middle" fill="#111" stroke="#111" stroke-width="0.25">0h</text>
<text x="633.4" y="267.1" font-size="9" text-anchor="middle" fill="#111" stroke="#111" stroke-width="0.25">24h</text>
<text x="666.4" y="267.1" font-size="9" text-anchor="middle" fill="#111" stroke="#111" stroke-width="0.25">72h</text>
<text x="610.7" y="160.3" font-size="10" font-weight="bold" stroke="#000" stroke-width="0.25" fill="#000" textLength="43.4" lengthAdjust="spacingAndGlyphs">Ishikawa</text>
<text transform="translate(557.3,198.7) rotate(-90)" text-anchor="middle" font-size="8.2" fill="#2a2a2a" textLength="76.0" lengthAdjust="spacingAndGlyphs">Relative Cell Viability</text>
<line x1="633.9" y1="208.4" x2="633.9" y2="218.7" stroke="#aaa" stroke-width="1" stroke-linecap="butt"/>
<line x1="633.9" y1="231.6" x2="633.9" y2="238.9" stroke="#aaa" stroke-width="1" stroke-linecap="butt"/>
<line x1="666.0" y1="179.2" x2="666.0" y2="186.5" stroke="#aaa" stroke-width="1" stroke-linecap="butt"/>
<line x1="666.0" y1="212.1" x2="666.0" y2="221.8" stroke="#aaa" stroke-width="1" stroke-linecap="butt"/>
<polyline points="601.0,251.0 633.9,235.2 666.0,217.7" fill="none" stroke="#222" stroke-width="1.2" stroke-dasharray="3,2" stroke-linejoin="round"/>
<polyline points="601.0,251.0 633.9,213.8 666.0,182.9" fill="none" stroke="#222" stroke-width="1.2" stroke-linejoin="round"/>
<line x1="599.0" y1="180.5" x2="607.5" y2="180.5" stroke="#1a1a1a" stroke-width="1.0" stroke-dasharray="3,2.3" stroke-linecap="butt"/>
<line x1="599.0" y1="194.5" x2="607.5" y2="194.5" stroke="#1a1a1a" stroke-width="1.0" stroke-linecap="butt"/>
<text x="608.8" y="182.8" font-size="9" stroke="#222" stroke-width="0.15" fill="#222" textLength="30.7" lengthAdjust="spacingAndGlyphs">Control</text>
<text x="608.8" y="197.0" font-size="9" stroke="#222" stroke-width="0.15" fill="#222" textLength="22.6" lengthAdjust="spacingAndGlyphs">cDNA</text>
<line x1="664.8" y1="168.8" x2="664.8" y2="175.0" stroke="#000" stroke-width="1.35" stroke-linecap="butt"/>
<line x1="662.1" y1="170.3" x2="667.5" y2="173.5" stroke="#000" stroke-width="1.35" stroke-linecap="butt"/>
<line x1="667.5" y1="170.3" x2="662.1" y2="173.5" stroke="#000" stroke-width="1.35" stroke-linecap="butt"/>
<text x="671.3" y="176.1" font-size="9.8" font-weight="bold" fill="#000" stroke="#000" stroke-width="0.3">1</text>
<line x1="58.8" y1="300.3" x2="58.8" y2="462.7" stroke="#222" stroke-width="1.6" stroke-linecap="butt"/>
<line x1="54.8" y1="462.7" x2="58.8" y2="462.7" stroke="#222" stroke-width="1.4" stroke-linecap="butt"/>
<text x="49.7" y="465.2" font-size="7.7" text-anchor="end" fill="#222" stroke="#222" stroke-width="0.1">1</text>
<line x1="54.8" y1="439.5" x2="58.8" y2="439.5" stroke="#222" stroke-width="1.4" stroke-linecap="butt"/>
<text x="49.7" y="442.0" font-size="7.7" text-anchor="end" fill="#222" stroke="#222" stroke-width="0.1">1.2</text>
<line x1="54.8" y1="416.3" x2="58.8" y2="416.3" stroke="#222" stroke-width="1.4" stroke-linecap="butt"/>
<text x="49.7" y="418.8" font-size="7.7" text-anchor="end" fill="#222" stroke="#222" stroke-width="0.1">1.4</text>
<line x1="54.8" y1="393.1" x2="58.8" y2="393.1" stroke="#222" stroke-width="1.4" stroke-linecap="butt"/>
<text x="49.7" y="395.6" font-size="7.7" text-anchor="end" fill="#222" stroke="#222" stroke-width="0.1">1.6</text>
<line x1="54.8" y1="369.9" x2="58.8" y2="369.9" stroke="#222" stroke-width="1.4" stroke-linecap="butt"/>
<text x="49.7" y="372.4" font-size="7.7" text-anchor="end" fill="#222" stroke="#222" stroke-width="0.1">1.8</text>
<line x1="54.8" y1="346.7" x2="58.8" y2="346.7" stroke="#222" stroke-width="1.4" stroke-linecap="butt"/>
<text x="49.7" y="349.2" font-size="7.7" text-anchor="end" fill="#222" stroke="#222" stroke-width="0.1">2</text>
<line x1="54.8" y1="323.5" x2="58.8" y2="323.5" stroke="#222" stroke-width="1.4" stroke-linecap="butt"/>
<text x="49.7" y="326.0" font-size="7.7" text-anchor="end" fill="#222" stroke="#222" stroke-width="0.1">2.2</text>
<line x1="54.8" y1="300.3" x2="58.8" y2="300.3" stroke="#222" stroke-width="1.4" stroke-linecap="butt"/>
<text x="49.7" y="302.8" font-size="7.7" text-anchor="end" fill="#222" stroke="#222" stroke-width="0.1">2.4</text>
<line x1="54.8" y1="462.7" x2="353.7" y2="462.7" stroke="#222" stroke-width="1.6" stroke-linecap="butt"/>
<line x1="85.0" y1="376.2" x2="85.0" y2="383.8" stroke="#999" stroke-width="1" stroke-linecap="butt"/>
<line x1="106.0" y1="318.9" x2="106.0" y2="332.8" stroke="#999" stroke-width="1" stroke-linecap="butt"/>
<rect x="74.4" y="383.8" width="21.1" height="78.9" fill="#6c6c6c"/>
<rect x="95.5" y="332.8" width="21.1" height="129.9" fill="#000"/>
<line x1="159.1" y1="405.4" x2="159.1" y2="412.4" stroke="#999" stroke-width="1" stroke-linecap="butt"/>
<line x1="180.2" y1="392.5" x2="180.2" y2="406.4" stroke="#999" stroke-width="1" stroke-linecap="butt"/>
<rect x="148.6" y="412.4" width="21.1" height="50.3" fill="#6c6c6c"/>
<rect x="169.7" y="406.4" width="21.1" height="56.3" fill="#000"/>
<line x1="233.3" y1="393.7" x2="233.3" y2="400.5" stroke="#999" stroke-width="1" stroke-linecap="butt"/>
<line x1="254.5" y1="375.6" x2="254.5" y2="387.0" stroke="#999" stroke-width="1" stroke-linecap="butt"/>
<rect x="222.8" y="400.5" width="21.1" height="62.2" fill="#6c6c6c"/>
<rect x="243.9" y="387.0" width="21.1" height="75.7" fill="#000"/>
<line x1="307.1" y1="384.3" x2="307.1" y2="391.0" stroke="#999" stroke-width="1" stroke-linecap="butt"/>
<line x1="328.2" y1="358.7" x2="328.2" y2="377.0" stroke="#999" stroke-width="1" stroke-linecap="butt"/>
<rect x="296.6" y="391.0" width="21.1" height="71.7" fill="#6c6c6c"/>
<rect x="317.7" y="377.0" width="21.1" height="85.7" fill="#000"/>
<line x1="103.2" y1="309.8" x2="103.2" y2="316.0" stroke="#000" stroke-width="1.35" stroke-linecap="butt"/>
<line x1="100.5" y1="311.4" x2="105.9" y2="314.5" stroke="#000" stroke-width="1.35" stroke-linecap="butt"/>
<line x1="105.9" y1="311.4" x2="100.5" y2="314.5" stroke="#000" stroke-width="1.35" stroke-linecap="butt"/>
<text x="108.9" y="317.8" font-size="10.5" font-weight="bold" fill="#000" stroke="#000" stroke-width="0.3">2</text>
<line x1="150.3" y1="392.6" x2="150.3" y2="398.8" stroke="#000" stroke-width="1.35" stroke-linecap="butt"/>
<line x1="147.6" y1="394.1" x2="153.0" y2="397.2" stroke="#000" stroke-width="1.35" stroke-linecap="butt"/>
<line x1="153.0" y1="394.1" x2="147.6" y2="397.2" stroke="#000" stroke-width="1.35" stroke-linecap="butt"/>
<text x="156.0" y="400.6" font-size="10.5" font-weight="bold" fill="#000" stroke="#000" stroke-width="0.3">2</text>
<line x1="174.0" y1="376.9" x2="174.0" y2="383.1" stroke="#000" stroke-width="1.35" stroke-linecap="butt"/>
<line x1="171.3" y1="378.4" x2="176.7" y2="381.6" stroke="#000" stroke-width="1.35" stroke-linecap="butt"/>
<line x1="176.7" y1="378.4" x2="171.3" y2="381.6" stroke="#000" stroke-width="1.35" stroke-linecap="butt"/>
<text x="179.3" y="384.9" font-size="10.5" font-weight="bold" fill="#000" stroke="#000" stroke-width="0.3">3</text>
<line x1="247.0" y1="361.6" x2="247.0" y2="367.8" stroke="#000" stroke-width="1.35" stroke-linecap="butt"/>
<line x1="244.3" y1="363.1" x2="249.7" y2="366.2" stroke="#000" stroke-width="1.35" stroke-linecap="butt"/>
<line x1="249.7" y1="363.1" x2="244.3" y2="366.2" stroke="#000" stroke-width="1.35" stroke-linecap="butt"/>
<text x="252.6" y="369.6" font-size="10.5" font-weight="bold" fill="#000" stroke="#000" stroke-width="0.3">3</text>
<line x1="323.7" y1="351.1" x2="323.7" y2="357.3" stroke="#000" stroke-width="1.35" stroke-linecap="butt"/>
<line x1="321.0" y1="352.6" x2="326.4" y2="355.8" stroke="#000" stroke-width="1.35" stroke-linecap="butt"/>
<line x1="326.4" y1="352.6" x2="321.0" y2="355.8" stroke="#000" stroke-width="1.35" stroke-linecap="butt"/>
<text x="329.4" y="359.1" font-size="10.5" font-weight="bold" fill="#000" stroke="#000" stroke-width="0.3">3</text>
<text x="88.2" y="476.7" font-size="10" font-weight="bold" stroke="#000" stroke-width="0.25" fill="#000" textLength="19.0" lengthAdjust="spacingAndGlyphs">Veh</text>
<text x="160.9" y="476.7" font-size="10" font-weight="bold" stroke="#000" stroke-width="0.25" fill="#000" textLength="30.3" lengthAdjust="spacingAndGlyphs">EX527</text>
<text x="234.1" y="476.7" font-size="10" font-weight="bold" stroke="#000" stroke-width="0.25" fill="#000" textLength="24.9" lengthAdjust="spacingAndGlyphs">Wort</text>
<text x="301.8" y="476.7" font-size="10" font-weight="bold" stroke="#000" stroke-width="0.25" fill="#000" textLength="32.1" lengthAdjust="spacingAndGlyphs">U0126</text>
<rect x="243.2" y="292.2" width="11.1" height="10.7" fill="#6c6c6c"/>
<rect x="243.2" y="309.0" width="11.1" height="10.5" fill="#000"/>
<text x="259.4" y="301.9" font-size="10.5" stroke="#111" stroke-width="0.15" fill="#111" textLength="35.9" lengthAdjust="spacingAndGlyphs">Control</text>
<text x="259.6" y="317.3" font-size="10.5" stroke="#111" stroke-width="0.15" fill="#111" textLength="59.4" lengthAdjust="spacingAndGlyphs">HHUA-SIRT1</text>
<text transform="translate(11.7,382.4) rotate(-90)" text-anchor="middle" font-size="10.5" fill="#1a1a1a" textLength="103.0" lengthAdjust="spacingAndGlyphs">Relative Cell Viability</text>
<text transform="translate(24.8,377.3) rotate(-90)" text-anchor="middle" font-size="10.8" fill="#1a1a1a" textLength="70.0" lengthAdjust="spacingAndGlyphs">(Day 0=1.00)</text>
<line x1="466.5" y1="293.9" x2="466.5" y2="464.6" stroke="#222" stroke-width="1.6" stroke-linecap="butt"/>
<line x1="462.5" y1="464.6" x2="466.5" y2="464.6" stroke="#222" stroke-width="1.4" stroke-linecap="butt"/>
<text x="457.5" y="467.3" font-size="8.1" text-anchor="end" fill="#222" stroke="#222" stroke-width="0.1">0</text>
<line x1="462.5" y1="436.2" x2="466.5" y2="436.2" stroke="#222" stroke-width="1.4" stroke-linecap="butt"/>
<text x="457.5" y="438.8" font-size="8.1" text-anchor="end" fill="#222" stroke="#222" stroke-width="0.1">20</text>
<line x1="462.5" y1="407.7" x2="466.5" y2="407.7" stroke="#222" stroke-width="1.4" stroke-linecap="butt"/>
<text x="457.5" y="410.4" font-size="8.1" text-anchor="end" fill="#222" stroke="#222" stroke-width="0.1">40</text>
<line x1="462.5" y1="379.2" x2="466.5" y2="379.2" stroke="#222" stroke-width="1.4" stroke-linecap="butt"/>
<text x="457.5" y="381.9" font-size="8.1" text-anchor="end" fill="#222" stroke="#222" stroke-width="0.1">60</text>
<line x1="462.5" y1="350.8" x2="466.5" y2="350.8" stroke="#222" stroke-width="1.4" stroke-linecap="butt"/>
<text x="457.5" y="353.5" font-size="8.1" text-anchor="end" fill="#222" stroke="#222" stroke-width="0.1">80</text>
<line x1="462.5" y1="322.4" x2="466.5" y2="322.4" stroke="#222" stroke-width="1.4" stroke-linecap="butt"/>
<text x="457.5" y="325.0" font-size="8.1" text-anchor="end" fill="#222" stroke="#222" stroke-width="0.1">100</text>
<line x1="462.5" y1="293.9" x2="466.5" y2="293.9" stroke="#222" stroke-width="1.4" stroke-linecap="butt"/>
<text x="457.5" y="296.6" font-size="8.1" text-anchor="end" fill="#222" stroke="#222" stroke-width="0.1">120</text>
<line x1="462.5" y1="464.6" x2="619.4" y2="464.6" stroke="#222" stroke-width="1.6" stroke-linecap="butt"/>
<line x1="506.1" y1="447.2" x2="506.1" y2="456.0" stroke="#999" stroke-width="1" stroke-linecap="butt"/>
<line x1="584.7" y1="321.2" x2="584.7" y2="376.4" stroke="#8a8a8a" stroke-width="1" stroke-linecap="butt"/>
<rect x="490.3" y="455.8" width="31.2" height="8.8" fill="#000"/>
<rect x="568.9" y="376.4" width="31.2" height="88.2" fill="#000"/>
<line x1="582.1" y1="307.9" x2="582.1" y2="314.1" stroke="#000" stroke-width="1.35" stroke-linecap="butt"/>
<line x1="579.4" y1="309.4" x2="584.8" y2="312.6" stroke="#000" stroke-width="1.35" stroke-linecap="butt"/>
<line x1="584.8" y1="309.4" x2="579.4" y2="312.6" stroke="#000" stroke-width="1.35" stroke-linecap="butt"/>
<text x="587.9" y="314.9" font-size="9.3" font-weight="bold" fill="#000" stroke="#000" stroke-width="0.3">1</text>
<text x="484.2" y="478.4" font-size="10" font-weight="bold" stroke="#000" stroke-width="0.25" fill="#000" textLength="37.4" lengthAdjust="spacingAndGlyphs">Control</text>
<text x="570.3" y="475.8" font-size="10" font-weight="bold" stroke="#000" stroke-width="0.25" fill="#000" textLength="29.7" lengthAdjust="spacingAndGlyphs">HHUA</text>
<text x="569.4" y="489.8" font-size="10" font-weight="bold" stroke="#000" stroke-width="0.25" fill="#000" textLength="30.3" lengthAdjust="spacingAndGlyphs">-SIRT1</text>
<text transform="translate(433.1,379.6) rotate(-90)" text-anchor="middle" font-size="10.5" fill="#1a1a1a" textLength="98.0" lengthAdjust="spacingAndGlyphs">Number of colonies</text>
</svg>
</body></html>
